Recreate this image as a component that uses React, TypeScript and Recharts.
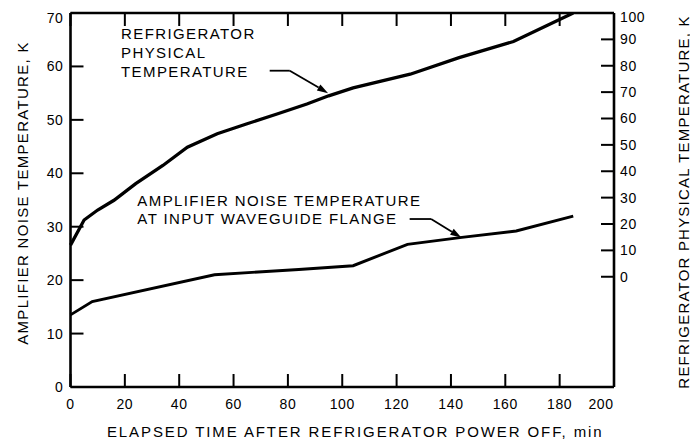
import React from 'react';
import { LineChart, Line, XAxis, YAxis, ReferenceLine, ReferenceDot } from 'recharts';

const FONT = '"Liberation Sans", Arial, Helvetica, sans-serif';

// Refrigerator physical temperature (right axis, K) vs elapsed minutes
const refrigMinutes = [0, 5, 10, 16, 24, 34, 43, 54, 65, 76, 87, 95, 104, 125, 143, 163, 185];
const refrigTemps = [12, 21.5, 25.3, 29, 35.3, 42.2, 49.1, 54.2, 58, 61.7, 65.5, 68.6, 71.6, 76.8, 83.1, 89.2, 100];

// Amplifier noise temperature at input waveguide flange (left axis, K)
const ampMinutes = [0, 8, 53, 84, 104, 124, 144, 164, 185];
const ampTemps = [13.5, 16, 21, 22, 22.7, 26.7, 28, 29.2, 32];

const xTicks = [0, 20, 40, 60, 80, 100, 120, 140, 160, 180, 200];
const leftTicks = [0, 10, 20, 30, 40, 50, 60, 70];
const rightTicks = [0, 10, 20, 30, 40, 50, 60, 70, 80, 90, 100];

const refrigLabel = ['REFRIGERATOR', 'PHYSICAL', 'TEMPERATURE'];
const ampLabel = ['AMPLIFIER NOISE TEMPERATURE', 'AT INPUT WAVEGUIDE FLANGE'];

const xTitle = 'ELAPSED TIME AFTER REFRIGERATOR POWER OFF, min';
const leftTitle = 'AMPLIFIER NOISE TEMPERATURE, K';
const rightTitle = 'REFRIGERATOR PHYSICAL TEMPERATURE, K';

const refrigData = refrigMinutes.map((t, i) => ({ t, v: refrigTemps[i] }));
const ampData = ampMinutes.map((t, i) => ({ t, v: ampTemps[i] }));

const W = 690;
const H = 436;
// inward tick mark lengths, in axis units (about 13 px)
const TICK_Y = 2.43; // left-axis K
const TICK_X = 4.78; // minutes

const MultiText = ({ cx, cy, lines }: { cx: number; cy: number; lines: string[] }) => (
  <text x={cx} y={cy} fill="#000" fontSize={15} fontFamily={FONT} letterSpacing={1.4}>
    {lines.map((l, i) => (
      <tspan key={i} x={cx} dy={i === 0 ? 0 : 18.7}>
        {l}
      </tspan>
    ))}
  </text>
);

const ArrowLine = (p: any) => {
  const { x1, y1, x2, y2 } = p;
  const dx = x2 - x1;
  const dy = y2 - y1;
  const len = Math.sqrt(dx * dx + dy * dy) || 1;
  const ux = dx / len;
  const uy = dy / len;
  const hl = 11;
  const hw = 3.5;
  const bx = x2 - ux * hl;
  const by = y2 - uy * hl;
  const pts = `${x2},${y2} ${bx - uy * hw},${by + ux * hw} ${bx + uy * hw},${by - ux * hw}`;
  return (
    <g>
      <line x1={x1} y1={y1} x2={bx} y2={by} stroke="#000" strokeWidth={1.8} />
      <polygon points={pts} fill="#000" />
    </g>
  );
};

const txt = { fill: '#000', fontSize: 14, fontFamily: FONT, letterSpacing: 0.6 };

const XTick = (p: any) => {
  const v = p.payload.value;
  return (
    <text x={p.x + (v === 200 ? -13 : 0)} y={p.y} dy="0.71em" textAnchor="middle" {...txt}>
      {v}
    </text>
  );
};

const LeftTick = (p: any) => {
  const v = p.payload.value;
  return (
    <text x={p.x} y={p.y + (v === 70 ? 5 : 0)} dy="0.355em" textAnchor="end" {...txt}>
      {v}
    </text>
  );
};

const RightTick = (p: any) => {
  const v = p.payload.value;
  return (
    <text x={p.x} y={p.y + (v === 100 ? 4 : 0)} dy="0.355em" textAnchor="start" {...txt}>
      {v}
    </text>
  );
};

const axisLine = { stroke: '#000', strokeWidth: 2.6 };
const TICK_COLOR = '#000';

export default function App() {
  return (
    <div style={{ width: W, height: H, background: '#fff' }}>
      <LineChart width={W} height={H} margin={{ top: 4, right: 0, bottom: 0, left: 0 }}>
        <XAxis
          xAxisId="bottom"
          type="number"
          dataKey="t"
          domain={[0, 200]}
          ticks={xTicks}
          height={57}
          axisLine={axisLine}
          tickLine={false}
          tickSize={0}
          tickMargin={12}
          tick={<XTick />}
          interval={0}
          label={{
            content: (props: any) => {
              const vb = props.viewBox;
              return (
                <text
                  x={vb.x + vb.width / 2 + 13}
                  y={vb.y + 50}
                  textAnchor="middle"
                  fill="#000"
                  fontSize={15}
                  fontFamily={FONT}
                  letterSpacing={1.9}
                >
                  {xTitle}
                </text>
              );
            },
          }}
        />
        <XAxis
          xAxisId="top"
          orientation="top"
          type="number"
          dataKey="t"
          domain={[0, 200]}
          ticks={xTicks}
          height={1}
          axisLine={axisLine}
          tickLine={false}
          tick={false}
        />
        <YAxis
          yAxisId="left"
          type="number"
          domain={[0, 70]}
          ticks={leftTicks}
          width={62.5}
          axisLine={axisLine}
          tickLine={false}
          tickSize={0}
          tickMargin={7}
          tick={<LeftTick />}
          interval={0}
          label={{
            content: (props: any) => {
              const vb = props.viewBox;
              const cx = vb.x + 14;
              const cy = vb.y + vb.height / 2 - 7;
              return (
                <text
                  x={cx}
                  y={cy}
                  transform={`rotate(-90 ${cx} ${cy})`}
                  textAnchor="middle"
                  dominantBaseline="central"
                  fill="#000"
                  fontSize={15}
                  fontFamily={FONT}
                  letterSpacing={1.3}
                >
                  {leftTitle}
                </text>
              );
            },
          }}
        />
        <YAxis
          yAxisId="right"
          orientation="right"
          type="number"
          domain={[-41.8, 100]}
          ticks={rightTicks}
          allowDataOverflow
          width={84}
          axisLine={axisLine}
          tickLine={false}
          tickSize={0}
          tickMargin={6}
          tick={<RightTick />}
          interval={0}
          label={{
            content: (props: any) => {
              const vb = props.viewBox;
              const cx = vb.x + 69;
              const cy = vb.y + vb.height / 2 + 2;
              return (
                <text
                  x={cx}
                  y={cy}
                  transform={`rotate(-90 ${cx} ${cy})`}
                  textAnchor="middle"
                  dominantBaseline="central"
                  fill="#000"
                  fontSize={15}
                  fontFamily={FONT}
                  letterSpacing={1.2}
                >
                  {rightTitle}
                </text>
              );
            },
          }}
        />

        {xTicks.map((v) => (
          <ReferenceLine
            key={`b${v}`}
            xAxisId="bottom"
            yAxisId="left"
            segment={[{ x: v, y: 0 }, { x: v, y: TICK_Y }]}
            stroke={TICK_COLOR}
            strokeWidth={2}
            ifOverflow="visible"
          />
        ))}
        {xTicks.map((v) => (
          <ReferenceLine
            key={`t${v}`}
            xAxisId="bottom"
            yAxisId="left"
            segment={[{ x: v, y: 70 }, { x: v, y: 70 - TICK_Y }]}
            stroke={TICK_COLOR}
            strokeWidth={2}
            ifOverflow="visible"
          />
        ))}
        {leftTicks.map((v) => (
          <ReferenceLine
            key={`l${v}`}
            xAxisId="bottom"
            yAxisId="left"
            segment={[{ x: 0, y: v }, { x: TICK_X, y: v }]}
            stroke={TICK_COLOR}
            strokeWidth={2}
            ifOverflow="visible"
          />
        ))}
        {rightTicks.map((v) => (
          <ReferenceLine
            key={`r${v}`}
            xAxisId="bottom"
            yAxisId="right"
            segment={[{ x: 200, y: v }, { x: 200 - TICK_X, y: v }]}
            stroke={TICK_COLOR}
            strokeWidth={2}
            ifOverflow="visible"
          />
        ))}

        <Line
          data={refrigData}
          xAxisId="bottom"
          yAxisId="right"
          dataKey="v"
          type="linear"
          stroke="#000"
          strokeWidth={3.3}
          dot={false}
          isAnimationActive={false}
        />
        <Line
          data={ampData}
          xAxisId="bottom"
          yAxisId="left"
          dataKey="v"
          type="linear"
          stroke="#000"
          strokeWidth={2.9}
          dot={false}
          isAnimationActive={false}
        />
        <ReferenceDot
          xAxisId="bottom"
          yAxisId="left"
          x={18.6}
          y={65.1}
          r={0}
          ifOverflow="visible"
          shape={(p: any) => <MultiText cx={p.cx} cy={p.cy} lines={refrigLabel} />}
        />
        <ReferenceLine
          xAxisId="bottom"
          yAxisId="left"
          segment={[{ x: 73.3, y: 59.2 }, { x: 80.7, y: 59.2 }]}
          stroke="#000"
          strokeWidth={1.8}
          ifOverflow="visible"
        />
        <ReferenceLine
          xAxisId="bottom"
          yAxisId="left"
          segment={[{ x: 80.7, y: 59.2 }, { x: 94.8, y: 55.0 }]}
          ifOverflow="visible"
          shape={ArrowLine}
        />
        <ReferenceDot
          xAxisId="bottom"
          yAxisId="left"
          x={24.6}
          y={33.97}
          r={0}
          ifOverflow="visible"
          shape={(p: any) => <MultiText cx={p.cx} cy={p.cy} lines={ampLabel} />}
        />
        <ReferenceLine
          xAxisId="bottom"
          yAxisId="left"
          segment={[{ x: 124.8, y: 31.44 }, { x: 132.7, y: 31.44 }]}
          stroke="#000"
          strokeWidth={1.8}
          ifOverflow="visible"
        />
        <ReferenceLine
          xAxisId="bottom"
          yAxisId="left"
          segment={[{ x: 132.7, y: 31.44 }, { x: 143.8, y: 28.0 }]}
          ifOverflow="visible"
          shape={ArrowLine}
        />
      </LineChart>
    </div>
  );
}
